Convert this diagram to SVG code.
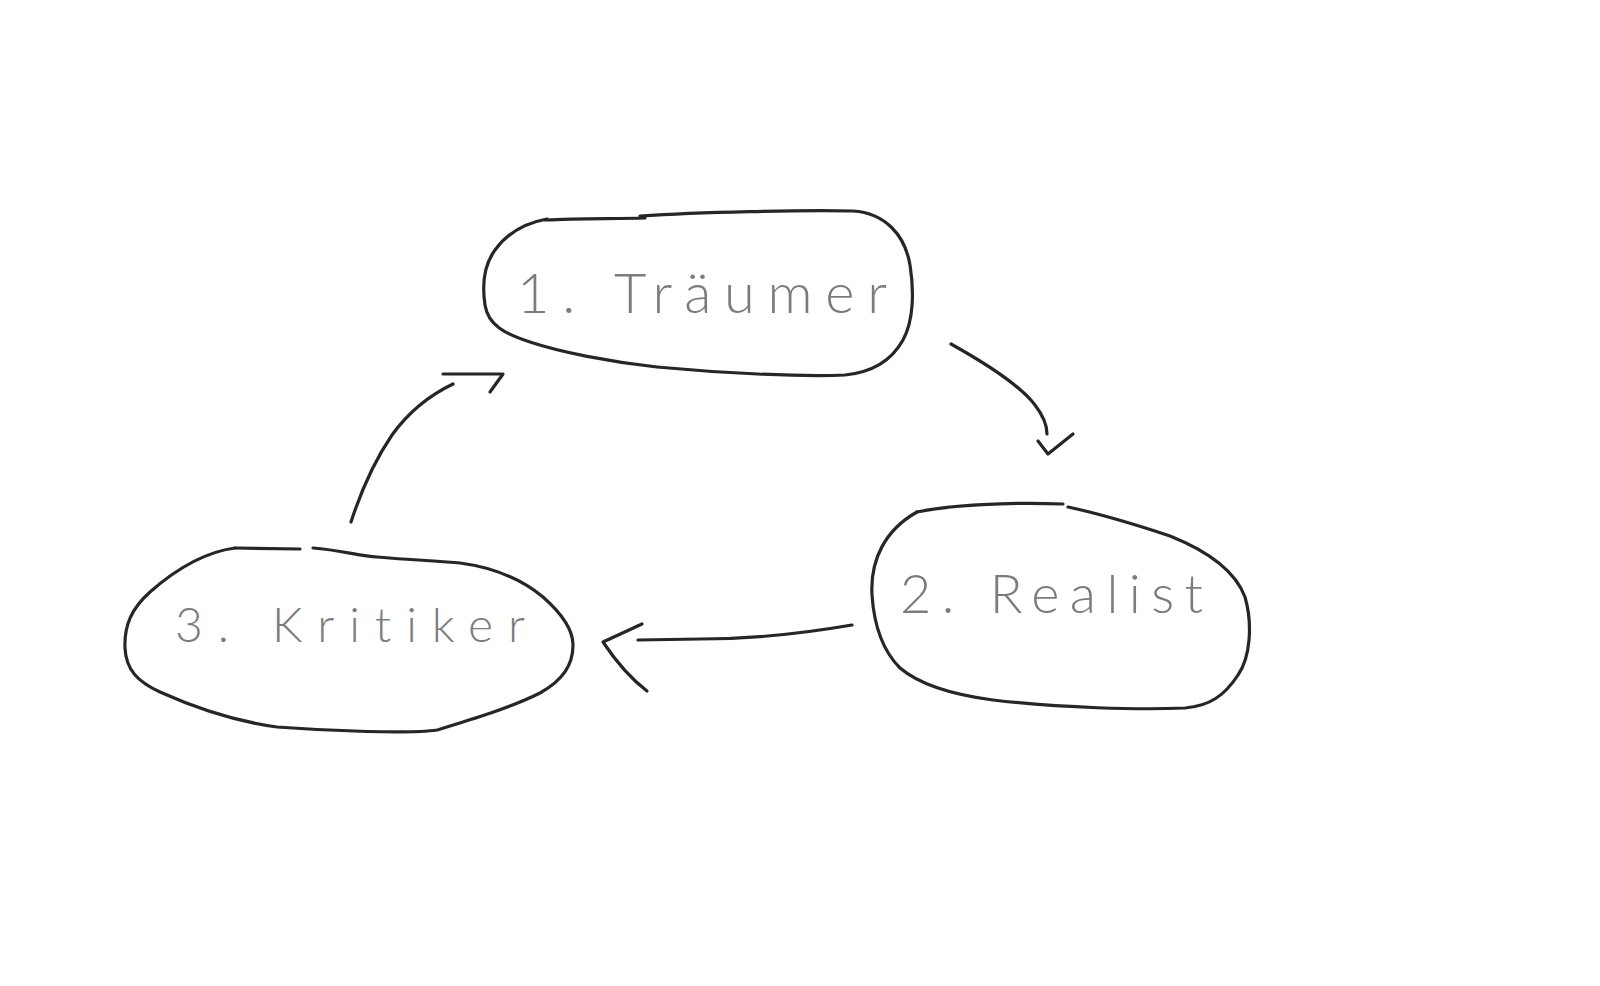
<svg xmlns="http://www.w3.org/2000/svg" width="1600" height="986" viewBox="0 0 1600 986">
<style>
.ln{fill:none;stroke:#2a2525;stroke-width:3.2;stroke-linecap:round;stroke-linejoin:round}
.lbl{font-family:Lato,"Open Sans","DejaVu Sans",sans-serif;font-weight:300;fill:#7c7c7c;font-variant-ligatures:none;font-feature-settings:"liga" 0}
</style>
<rect width="1600" height="986" fill="#ffffff"/>
<g id="node-traeumer">
<path class="ln" d="M545 220 C580 218 615 219 645 218"/>
<path class="ln" d="M640 216 C700 212 800 210 853 211 C885 213 905 235 910 265 C914 290 914 320 903 340 C893 358 875 372 845 375 C800 377 720 373 657 367 C610 362 560 352 530 342 C505 334 488 325 485 305 C482 285 484 265 495 250 C508 232 525 223 547 219"/>
<text class="lbl" x="517" y="313" font-size="56" textLength="370" lengthAdjust="spacing">1. Träumer</text>
</g>
<g id="node-realist">
<path class="ln" d="M917 512 C950 505 1010 502 1063 504"/>
<path class="ln" d="M1068 507 C1105 515 1140 526 1170 536 C1205 550 1235 570 1245 597 C1253 625 1250 658 1238 675 C1225 695 1210 706 1185 708 C1140 710 1060 708 993 700 C955 695 920 685 900 668 C882 650 874 625 872 595 C870 560 885 530 917 512"/>
<text class="lbl" x="900" y="613" font-size="54" textLength="303" lengthAdjust="spacing">2. Realist</text>
</g>
<g id="node-kritiker">
<path class="ln" d="M235 548 L300 549"/>
<path class="ln" d="M313 548 C340 550 360 556 377 557 C410 560 440 561 460 563 C490 567 520 578 543 597 C560 612 573 628 573 645 C573 665 563 680 540 693 C510 708 470 720 437 730 C410 734 330 731 277 727 C240 722 200 710 160 692 C138 682 126 670 125 648 C124 625 132 608 150 592 C175 570 205 552 235 548"/>
<text class="lbl" x="175" y="642" font-size="48" textLength="350" lengthAdjust="spacing">3. Kritiker</text>
</g>
<g id="connectors">
<path class="ln" d="M951 344 C985 363 1020 385 1035 405 C1045 418 1047 428 1047 434"/>
<path class="ln" d="M1038 441 L1048 454 L1073 434"/>
<path class="ln" d="M852 625 C800 634 750 639 700 639 L638 640"/>
<path class="ln" d="M642 624 L603 642 C615 660 630 678 647 691"/>
<path class="ln" d="M351 522 C362 488 375 460 392 435 C410 410 430 395 453 384"/>
<path class="ln" d="M443 374 L503 374 L490 392"/>
</g>
</svg>
